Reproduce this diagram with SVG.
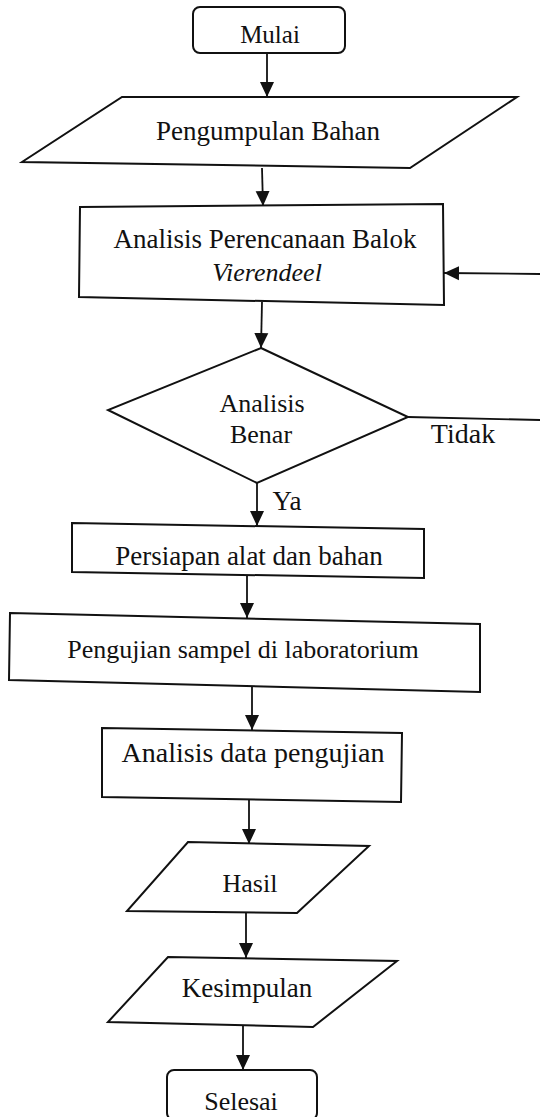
<svg xmlns="http://www.w3.org/2000/svg" width="540" height="1117" viewBox="0 0 540 1117">
<defs>
<style>
.n{fill:#fff;stroke:#111;stroke-width:2}
.t{font-family:"Liberation Serif","Times New Roman",serif;font-size:26px;fill:#111;text-anchor:middle}
.c{stroke:#111;stroke-width:1.8;fill:none}
</style>
<marker id="ah" markerUnits="userSpaceOnUse" markerWidth="16" markerHeight="16" viewBox="0 0 16 16" refX="15" refY="8" orient="auto">
<path d="M0,1 L15,8 L0,15 Z" fill="#111"/>
</marker>
</defs>
<rect width="540" height="1117" fill="#fff"/>
<g id="connectors">
<line class="c" x1="267" y1="53" x2="267" y2="97" marker-end="url(#ah)"/>
<line class="c" x1="262" y1="168" x2="263" y2="206" marker-end="url(#ah)"/>
<line class="c" x1="540" y1="274" x2="444" y2="273" marker-end="url(#ah)"/>
<line class="c" x1="262" y1="302" x2="261" y2="348" marker-end="url(#ah)"/>
<line class="c" x1="408" y1="417" x2="540" y2="420"/>
<line class="c" x1="257" y1="483" x2="257" y2="526" marker-end="url(#ah)"/>
<line class="c" x1="247" y1="576" x2="247" y2="618" marker-end="url(#ah)"/>
<line class="c" x1="252" y1="687" x2="252" y2="730" marker-end="url(#ah)"/>
<line class="c" x1="249" y1="800" x2="249" y2="844" marker-end="url(#ah)"/>
<line class="c" x1="246" y1="912" x2="246" y2="958" marker-end="url(#ah)"/>
<line class="c" x1="243" y1="1025" x2="243" y2="1070" marker-end="url(#ah)"/>
<text class="t" x="463" y="443" style="font-size:28px">Tidak</text>
<text class="t" x="287" y="510" style="font-size:27px">Ya</text>
</g>
<g id="mulai">
<rect class="n" x="193" y="7" width="152" height="46" rx="7"/>
<text class="t" x="270" y="43" style="font-size:25px">Mulai</text>
</g>
<g id="pengumpulan">
<polygon class="n" points="122,97 517,97 410,168 22,162"/>
<text class="t" x="268" y="140" style="font-size:27px">Pengumpulan Bahan</text>
</g>
<g id="analisis-perencanaan">
<polygon class="n" points="80,207 443,204 444,305 79,297"/>
<text class="t" x="265" y="248" style="font-size:27px">Analisis Perencanaan Balok</text>
<text class="t" x="267" y="281" style="font-style:italic">Vierendeel</text>
</g>
<g id="keputusan">
<polygon class="n" points="261,348 408,417 257,483 108,410"/>
<text class="t" x="262" y="412">Analisis</text>
<text class="t" x="261" y="443">Benar</text>
</g>
<g id="persiapan">
<polygon class="n" points="72,523 424,529 424,578 72,572"/>
<text class="t" x="249" y="565" style="font-size:27px">Persiapan alat dan bahan</text>
</g>
<g id="pengujian">
<polygon class="n" points="10,613 480,624 480,692 9,680"/>
<text class="t" x="243" y="658">Pengujian sampel di laboratorium</text>
</g>
<g id="analisis-data">
<polygon class="n" points="102,728 402,733 401,802 102,797"/>
<text class="t" x="253" y="762" style="font-size:28px">Analisis data pengujian</text>
</g>
<g id="hasil">
<polygon class="n" points="188,842 369,846 297,913 127,911"/>
<text class="t" x="250" y="892">Hasil</text>
</g>
<g id="kesimpulan">
<polygon class="n" points="168,957 397,961 313,1027 108,1022"/>
<text class="t" x="247" y="997" style="font-size:27px">Kesimpulan</text>
</g>
<g id="selesai">
<rect class="n" x="167" y="1070" width="150" height="50" rx="7"/>
<text class="t" x="241" y="1110">Selesai</text>
</g>
</svg>
